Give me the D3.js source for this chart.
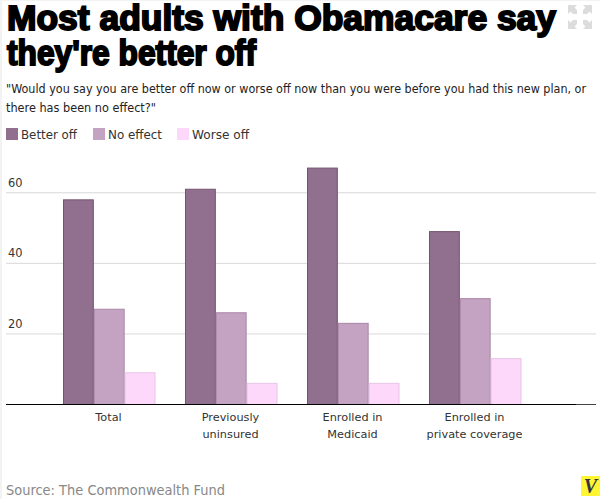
<!DOCTYPE html>
<html>
<head>
<meta charset="utf-8">
<script src="https://cdn.jsdelivr.net/npm/d3@7"></script>
<style>
  html, body { margin: 0; padding: 0; background: #fff; }
  text { font-family: "DejaVu Sans", sans-serif; }
</style>
</head>
<body>
<div id="wrapper"></div>
<script>
const categories = [['Total'], ['Previously', 'uninsured'], ['Enrolled in', 'Medicaid'], ['Enrolled in', 'private coverage']]
const seriesNames = ['Better off', 'No effect', 'Worse off']
const betterOff = [58, 61, 67, 49]
const noEffect = [27, 26, 23, 30]
const worseOff = [9, 6, 6, 13]
const yTicks = [20, 40, 60]
const colors = ['#916f8e', '#c4a2c1', '#fdd8fb']
const strokes = ['#75536f', '#a987a6', '#e8c4e6']

const titleLines = ['Most adults with Obamacare say', "they're better off"]
const titleWidths = [549, 249]
const subtitleLines = ['"Would you say you are better off now or worse off now than you were before you had this new plan, or', 'there has been no effect?"']
const subtitleWidths = [580, 150]
const source = 'Source: The Commonwealth Fund'

const width = 600
const height = 499
const plot = { left: 6, right: 596, bottom: 404.5 }

const svg = d3.select('#wrapper').append('svg')
  .attr('width', width)
  .attr('height', height)
  .style('display', 'block')

// faint page edge
svg.append('rect').attr('width', 2).attr('height', height).attr('fill', '#f3f3f3')
svg.append('rect').attr('width', width).attr('height', 1).attr('fill', '#f3f3f3')

// header
svg.append('g').selectAll('text').data(titleLines).join('text')
  .attr('x', 7)
  .attr('y', (d, i) => 30 + i * 35)
  .attr('font-size', 34.5)
  .attr('font-weight', 700)
  .attr('fill', '#000')
  .attr('stroke', '#000')
  .attr('stroke-width', 1.9)
  .attr('textLength', (d, i) => titleWidths[i])
  .attr('lengthAdjust', 'spacingAndGlyphs')
  .style('font-family', '"Liberation Sans", sans-serif')
  .text(d => d)

svg.append('g').selectAll('text').data(subtitleLines).join('text')
  .attr('x', 6)
  .attr('y', (d, i) => 93 + i * 19)
  .attr('font-size', 11.4)
  .attr('fill', '#222')
  .attr('textLength', (d, i) => subtitleWidths[i])
  .attr('lengthAdjust', 'spacingAndGlyphs')
  .text(d => d)

// expand icon, top right
const icon = svg.append('g').attr('fill', '#dcdcdc')
const arrow = 'M0 0H9L6.5 2.5L9 5V9H5L2.5 6.5L0 9Z'
;[[568, 5, 1, 1], [592, 5, -1, 1], [568, 29, 1, -1], [592, 29, -1, -1]].forEach(([x, y, sx, sy]) => {
  icon.append('path').attr('d', arrow).attr('transform', `translate(${x},${y}) scale(${sx},${sy})`)
})

// legend
const legendX = [6, 93, 177]
const legendWidths = [56, 54, 57]
const legend = svg.append('g').selectAll('g').data(seriesNames).join('g')
  .attr('transform', (d, i) => `translate(${legendX[i]},128)`)
legend.append('rect')
  .attr('width', 12)
  .attr('height', 12)
  .attr('fill', (d, i) => colors[i])
legend.append('text')
  .attr('x', 15)
  .attr('y', 11)
  .attr('font-size', 11.4)
  .attr('fill', '#333')
  .attr('textLength', (d, i) => legendWidths[i])
  .attr('lengthAdjust', 'spacingAndGlyphs')
  .text(d => d)

// scales
const yScale = d3.scaleLinear().domain([0, 70]).range([plot.bottom, plot.bottom - 247])

const xScale = d3.scaleBand()
  .domain(d3.range(categories.length))
  .range([48, 536])

const seriesScale = d3.scaleBand()
  .domain(d3.range(seriesNames.length))
  .range([15.5, 108])

// gridlines and y labels
const grid = svg.append('g').selectAll('g').data(yTicks).join('g')
grid.append('line')
  .attr('x1', plot.left)
  .attr('x2', plot.right)
  .attr('y1', d => yScale(d))
  .attr('y2', d => yScale(d))
  .attr('stroke', '#d9d9d9')
grid.append('text')
  .attr('x', 8)
  .attr('y', d => yScale(d) - 6)
  .attr('font-size', 11.4)
  .attr('fill', '#333')
  .text(d => d)

// bars
const allSeries = [betterOff, noEffect, worseOff]
allSeries.forEach((values, s) => {
  svg.append('g').selectAll('rect').data(values).join('rect')
    .attr('x', (d, i) => xScale(i) + seriesScale(s))
    .attr('y', d => yScale(d))
    .attr('width', seriesScale.bandwidth() - 1)
    .attr('height', d => plot.bottom - yScale(d))
    .attr('fill', colors[s])
    .attr('stroke', strokes[s])
})

// baseline, black then dark grey at the right end
svg.append('line')
  .attr('x1', plot.left)
  .attr('x2', plot.right)
  .attr('y1', plot.bottom)
  .attr('y2', plot.bottom)
  .attr('stroke', '#444')
svg.append('line')
  .attr('x1', plot.left)
  .attr('x2', 576)
  .attr('y1', plot.bottom)
  .attr('y2', plot.bottom)
  .attr('stroke', '#000')

// category labels
const catLabels = svg.append('g').selectAll('text').data(categories).join('text')
  .attr('text-anchor', 'middle')
  .attr('font-size', 11.3)
  .attr('fill', '#333')
  .attr('transform', (d, i) => `translate(${xScale(i) + xScale.bandwidth() / 2 - 0.5},421)`)
catLabels.selectAll('tspan').data(d => d).join('tspan')
  .attr('x', 0)
  .attr('dy', (d, i) => i ? 17 : 0)
  .text(d => d)

// source
svg.append('text')
  .attr('x', 6)
  .attr('y', 495)
  .attr('font-size', 14)
  .attr('fill', '#888')
  .attr('textLength', 219)
  .attr('lengthAdjust', 'spacingAndGlyphs')
  .text(source)

// v logo
svg.append('rect').attr('x', 581).attr('y', 476).attr('width', 19).attr('height', 20).attr('fill', '#fff533')
svg.append('text')
  .attr('x', 590.5)
  .attr('y', 493)
  .attr('text-anchor', 'middle')
  .attr('font-size', 20)
  .attr('font-weight', 700)
  .attr('font-style', 'italic')
  .attr('fill', '#333344')
  .style('font-family', '"Liberation Serif", serif')
  .text('V')
</script>
</body>
</html>
